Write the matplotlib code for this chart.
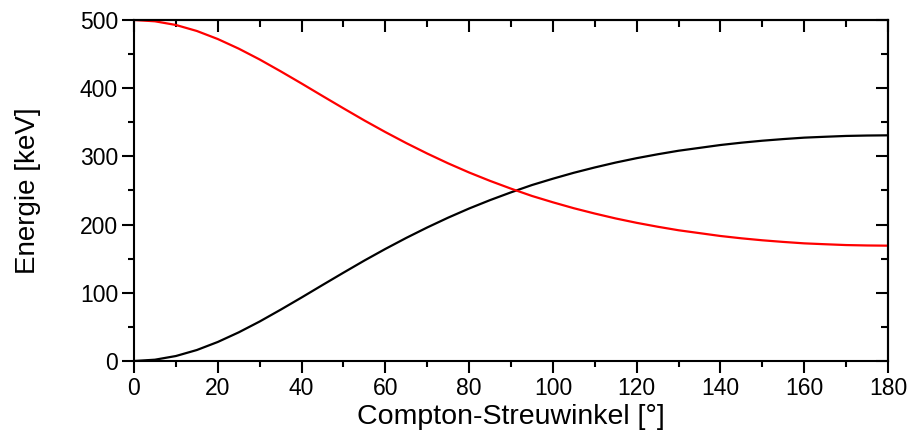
import matplotlib
matplotlib.use('Agg')
import matplotlib.pyplot as plt
from matplotlib.ticker import MultipleLocator

plt.rcParams['font.family'] = ['Liberation Sans', 'DejaVu Sans']

# scattering angle in degrees
angle = [0, 5, 10, 15, 20, 25, 30, 35, 40, 45, 50, 55, 60, 65, 70, 75, 80, 85, 90,
         95, 100, 105, 110, 115, 120, 125, 130, 135, 140, 145, 150, 155, 160, 165, 170, 175, 180]
# scattered photon energy (red)
photon = [500.0, 498.1, 492.7, 483.9, 472.1, 458.0, 442.1, 424.8, 406.9, 388.6, 370.5,
          352.7, 335.7, 319.5, 304.2, 289.8, 276.4, 264.1, 252.7, 242.0, 232.7, 224.0,
          216.2, 209.0, 202.6, 196.9, 191.7, 187.5, 183.3, 179.9, 177.0, 174.6, 172.5,
          171.2, 170.0, 169.4, 169.1]
# electron energy (black)
electron = [0.0, 1.9, 7.3, 16.1, 27.9, 42.0, 57.9, 75.2, 93.1, 111.4, 129.5, 147.3,
            164.3, 180.5, 195.8, 210.2, 223.6, 235.9, 247.3, 258.0, 267.3, 276.0, 283.8,
            291.0, 297.4, 303.1, 308.3, 312.5, 316.7, 320.1, 323.0, 325.4, 327.5, 328.8,
            330.0, 330.6, 330.9]

fig = plt.figure(figsize=(9.09, 4.36), dpi=100)
ax = fig.add_axes([134 / 909, 1 - 361 / 436, (888 - 134) / 909, (361 - 20) / 436])

ax.plot(angle, electron, color='black', lw=1.6)
ax.plot(angle, photon, color='red', lw=1.6)

ax.set_xlim(0, 180)
ax.set_ylim(0, 500)
ax.xaxis.set_major_locator(MultipleLocator(20))
ax.xaxis.set_minor_locator(MultipleLocator(10))
ax.yaxis.set_major_locator(MultipleLocator(100))
ax.yaxis.set_minor_locator(MultipleLocator(50))

for s in ax.spines.values():
    s.set_linewidth(1.5)

ax.tick_params(which='both', direction='out', width=1.5, labelsize=16.5, top=False, right=False)
ax.tick_params(which='major', length=8.5)
ax.tick_params(which='minor', length=4.5)
ax.tick_params(axis='x', pad=3)
ax.tick_params(axis='y', pad=3)

# mirrored ticks pointing inward on top and right
ax_t = ax.secondary_xaxis('top')
ax_t.xaxis.set_major_locator(MultipleLocator(20))
ax_t.xaxis.set_minor_locator(MultipleLocator(10))
ax_t.tick_params(which='both', direction='in', width=1.5, labeltop=False)
ax_t.tick_params(which='major', length=8.5)
ax_t.tick_params(which='minor', length=5)
ax_r = ax.secondary_yaxis('right')
ax_r.yaxis.set_major_locator(MultipleLocator(100))
ax_r.yaxis.set_minor_locator(MultipleLocator(50))
ax_r.tick_params(which='both', direction='in', width=1.5, labelright=False)
ax_r.tick_params(which='major', length=8.5)
ax_r.tick_params(which='minor', length=5)
for s in list(ax_t.spines.values()) + list(ax_r.spines.values()):
    s.set_linewidth(1.5)

ax.set_xlabel('Compton-Streuwinkel [°]', fontsize=20.5, labelpad=3)
ax.set_ylabel('Energie [keV]', fontsize=20, labelpad=28)

fig.savefig('out.png', dpi=100)
